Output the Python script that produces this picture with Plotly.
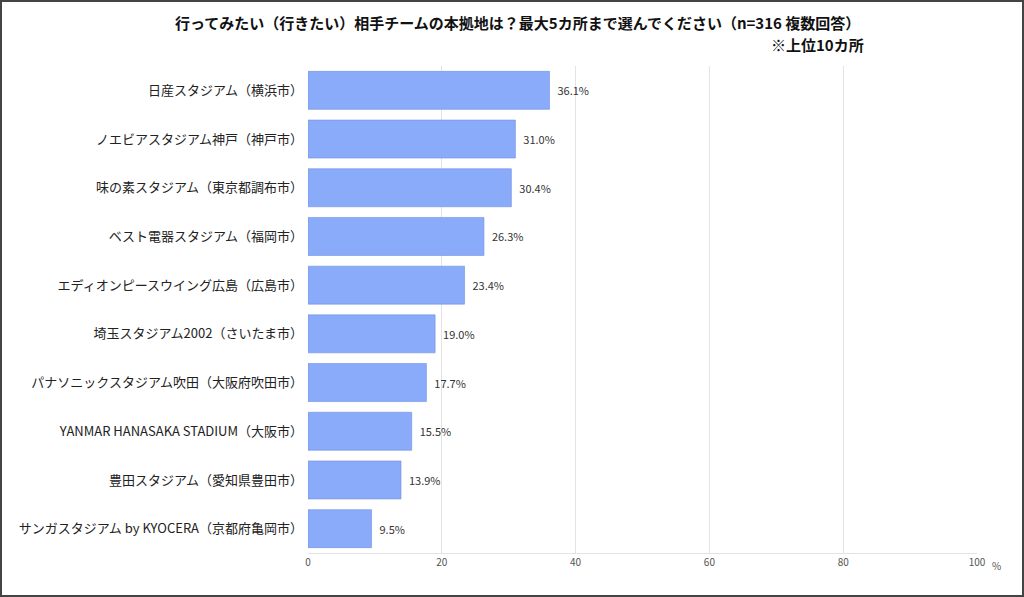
import plotly.graph_objects as go

# 上位10カ所
stadiums = [
    "日産スタジアム（横浜市）",
    "ノエビアスタジアム神戸（神戸市）",
    "味の素スタジアム（東京都調布市）",
    "ベスト電器スタジアム（福岡市）",
    "エディオンピースウイング広島（広島市）",
    "埼玉スタジアム2002（さいたま市）",
    "パナソニックスタジアム吹田（大阪府吹田市）",
    "YANMAR HANASAKA STADIUM（大阪市）",
    "豊田スタジアム（愛知県豊田市）",
    "サンガスタジアム by KYOCERA（京都府亀岡市）",
]
pct = [36.1, 31.0, 30.4, 26.3, 23.4, 19.0, 17.7, 15.5, 13.9, 9.5]
x_ticks = [0, 20, 40, 60, 80, 100]

W, H = 1024, 597
ml, mr, mt, mb = 308, 47, 66, 44
font_jp = "Noto Sans CJK JP"

fig = go.Figure(
    go.Bar(
        x=pct,
        y=stadiums,
        orientation="h",
        width=0.78,
        marker=dict(color="#8aabfa", line=dict(color="#6f8fe0", width=0.6)),
        text=[f"  {v:.1f}%" for v in pct],
        textposition="outside",
        textfont=dict(family=font_jp, size=11, color="#333333"),
        cliponaxis=False,
    )
)

fig.update_layout(
    width=W, height=H,
    margin=dict(l=ml, r=mr, t=mt, b=mb),
    paper_bgcolor="white", plot_bgcolor="white",
    showlegend=False,
    font=dict(family=font_jp, size=12, color="#222222"),
)
fig.update_xaxes(
    range=[0, 100], tickvals=x_ticks, ticktext=[str(t) for t in x_ticks],
    showgrid=True, gridcolor="#e3e3e3", gridwidth=1,
    showline=True, linecolor="#e3e3e3", zeroline=False,
    tickfont=dict(size=10, color="#555555"), ticklen=0, ticks="",
    mirror=False,
)
fig.update_yaxes(
    autorange="reversed", showgrid=False, showline=False, zeroline=False,
    tickfont=dict(size=13, color="#222222"), ticks="", ticklabelstandoff=4,
)

# frame around the whole picture
pw, ph = W - ml - mr, H - mt - mb
fig.add_shape(
    type="rect", xref="paper", yref="paper",
    x0=(1 - ml) / pw, x1=(pw + mr - 1) / pw,
    y0=(1 - mb) / ph, y1=(ph + mt - 1) / ph,
    line=dict(color="#444444", width=2), fillcolor="rgba(0,0,0,0)",
)

fig.add_annotation(
    text="<b>行ってみたい（行きたい）相手チームの本拠地は？最大5カ所まで選んでください（n=316 複数回答）</b>",
    xref="paper", yref="paper", x=(517 - ml) / pw, y=1 + (mt - 22) / ph,
    showarrow=False, xanchor="center", yanchor="middle",
    font=dict(size=15, color="#111111"),
)
fig.add_annotation(
    text="<b>※上位10カ所</b>",
    xref="paper", yref="paper", x=(866 - ml) / pw, y=1 + (mt - 44) / ph,
    showarrow=False, xanchor="right", yanchor="middle",
    font=dict(size=15, color="#111111"),
)
fig.add_annotation(
    text="%", xref="paper", yref="paper", x=(996 - ml) / pw, y=-(565 - (H - mb)) / ph,
    showarrow=False, xanchor="center", yanchor="middle",
    font=dict(size=10, color="#555555"),
)

fig.write_html(
    "out.html",
    config={"displayModeBar": False},
    post_script="document.body.style.margin='0';",
)
